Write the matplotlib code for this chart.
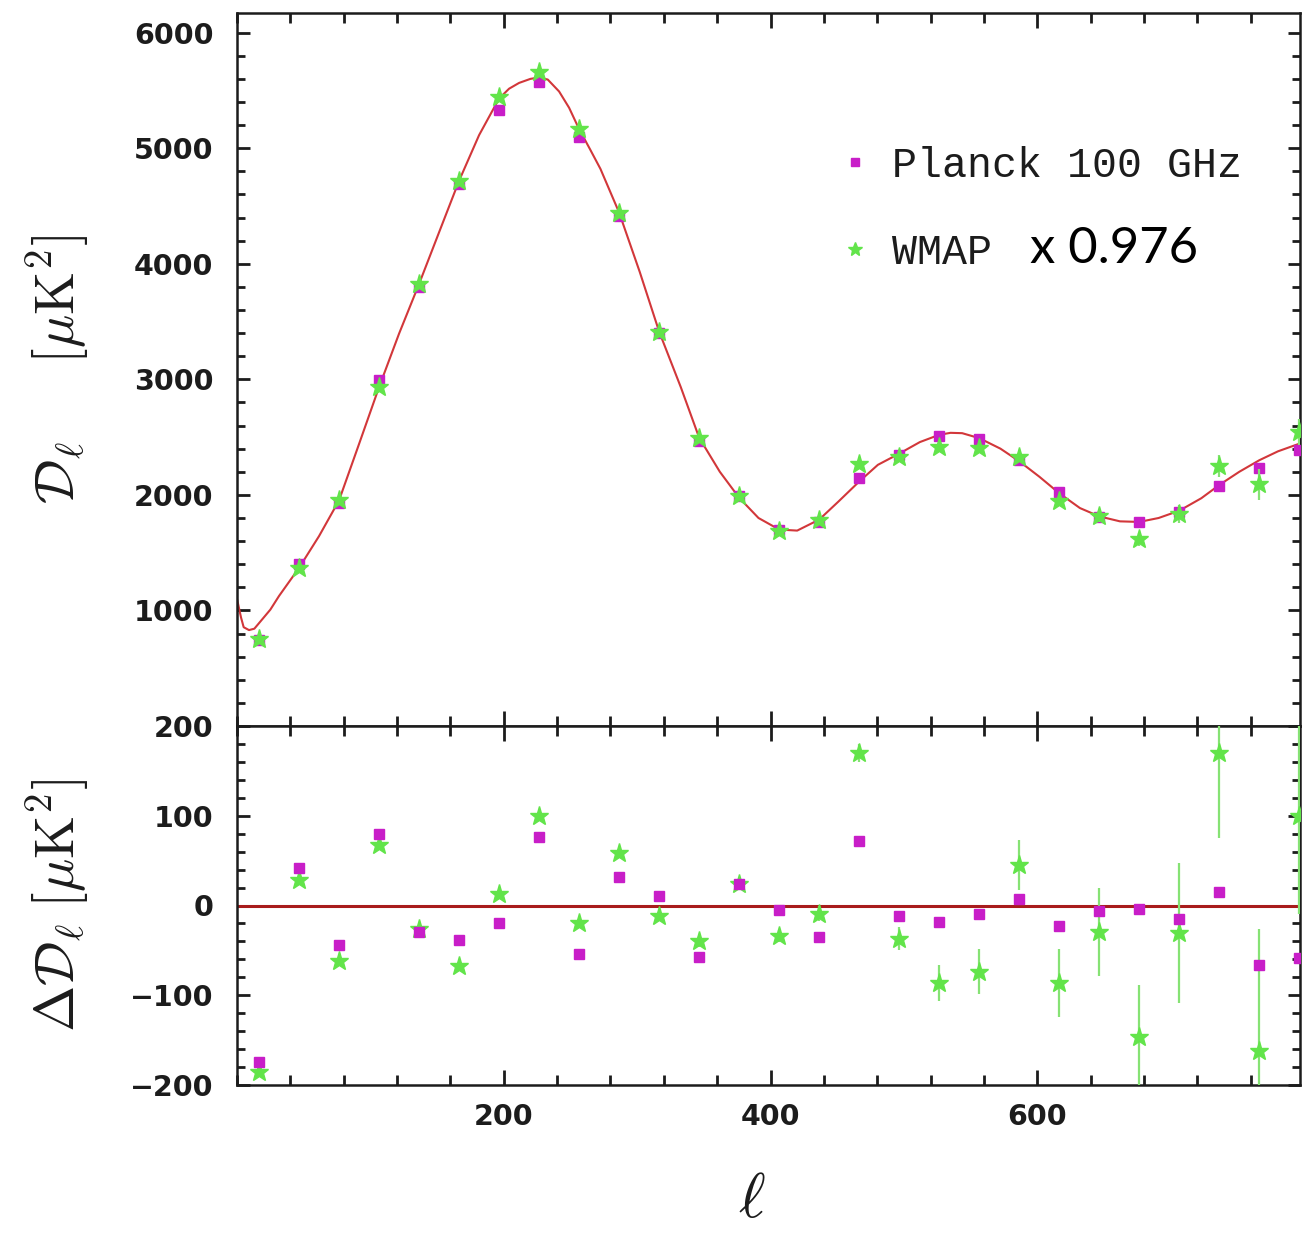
import matplotlib
matplotlib.use("Agg")
import matplotlib.pyplot as plt
from matplotlib.ticker import MultipleLocator, FixedLocator
from matplotlib.lines import Line2D

# ---------------- data ----------------
ell_bins = [16.5, 46.5, 76.5, 106.5, 136.5, 166.5, 196.5, 226.5, 256.5, 286.5,
            316.5, 346.5, 376.5, 406.5, 436.5, 466.5, 496.5, 526.5, 556.5, 586.5,
            616.5, 646.5, 676.5, 706.5, 736.5, 766.5, 796.5]

planck_dl = [740, 1400, 1930, 2990, 3800, 4690, 5330, 5575, 5095, 4410,
             3400, 2470, 1990, 1695, 1765, 2143, 2345, 2508, 2486, 2300,
             2029, 1810, 1766, 1850, 2080, 2234, 2386]

wmap_dl = [750, 1368, 1952, 2932, 3825, 4718, 5440, 5660, 5165, 4443,
           3413, 2495, 1986, 1686, 1786, 2263, 2329, 2414, 2406, 2329,
           1943, 1814, 1614, 1834, 2251, 2091, 2543]

planck_res = [-174, 42, -44, 80, -29, -38, -20, 76, -54, 32,
              11, -57, 24, -5, -35, 72, -12, -18, -10, 7,
              -23, -6, -4, -15, 15, -66, -58]

wmap_res = [-186, 28, -62, 67, -26, -67, 13, 100, -20, 58,
            -12, -40, 24, -34, -9, 170, -37, -86, -74, 45,
            -86, -30, -147, -31, 170, -162, 100]

wmap_err = [3, 3, 3, 3, 3, 4, 4, 4, 5, 5,
            5, 6, 6, 7, 8, 10, 13, 20, 25, 28,
            38, 49, 58, 78, 95, 136, 110]

model_ell = [0, 3, 5, 9, 13, 16.5, 25, 31.5, 46.5, 61.5, 76.5, 91.5, 106.5,
             121.5, 136.5, 151.5, 166.5, 181.5, 196.5, 204, 211.5, 220, 226.5,
             233, 241.5, 249, 256.5, 264.5, 272.5, 286.5, 302, 316.5, 332.75,
             346.5, 362, 376.5, 391, 406.5, 420, 436.5, 451, 466, 480.5, 496.5,
             512, 526.5, 535, 543.7, 556.5, 572.4, 586.5, 601.6, 616.5, 632,
             646.5, 662, 676.5, 691, 706.5, 723, 736.5, 751.5, 766.5, 780.5,
             796.5, 800]
model_dl = [1100, 940, 855, 830, 842, 890, 1007, 1125, 1368, 1643, 1952, 2440,
            2932, 3395, 3825, 4272, 4718, 5113, 5430, 5515, 5565, 5600, 5612,
            5594, 5491, 5350, 5165, 4995, 4821, 4443, 3928, 3413, 2932, 2495,
            2200, 1975, 1800, 1700, 1691, 1786, 1943, 2110, 2260, 2357, 2457,
            2520, 2537, 2534, 2491, 2400, 2291, 2157, 2014, 1886, 1814, 1771,
            1766, 1800, 1863, 1971, 2086, 2200, 2300, 2377, 2443, 2455]

top_yticks = [1000, 2000, 3000, 4000, 5000, 6000]
res_yticks = [-200, -100, 0, 100, 200]
x_ticks = [200, 400, 600]

# ---------------- style ----------------
plt.rcParams['mathtext.fontset'] = 'cm'
plt.rcParams['font.family'] = ['DejaVu Sans']

MAG = '#C81EC8'
GRN = '#62E44A'
GRN_ERR = '#86E274'
RED = '#D2373A'
ZERO = '#A81C1C'
INK = '#1c1c1c'

W, H = 1304, 1233
fig = plt.figure(figsize=(W / 100, H / 100), dpi=100)


def fx(px):
    return px / W


def fy(py):
    return 1 - py / H


L, R = 237, 1300
ax1 = fig.add_axes([fx(L), fy(726), (R - L) / W, (726 - 13) / H])
ax2 = fig.add_axes([fx(L), fy(1085), (R - L) / W, (1085 - 726) / H])

# top panel
ax1.plot(model_ell, model_dl, color=RED, lw=1.5, zorder=2)
ax1.plot(ell_bins, planck_dl, 's', ms=7, color=MAG, mec=MAG, zorder=3)
ax1.errorbar(ell_bins, wmap_dl, yerr=wmap_err, fmt='*', ms=14, color=GRN,
             mec=GRN, ecolor=GRN_ERR, elinewidth=1.6, capsize=0, zorder=4)

# residual panel
ax2.axhline(0, color=ZERO, lw=2.2, zorder=2)
ax2.errorbar(ell_bins, wmap_res, yerr=wmap_err, fmt='*', ms=14, color=GRN,
             mec=GRN, ecolor=GRN_ERR, elinewidth=1.6, capsize=0, zorder=3)
ax2.plot(ell_bins, planck_res, 's', ms=7, color=MAG, mec=MAG, zorder=4)

ax1.set_ylim(0, 6170)
ax2.set_ylim(-200, 200)
ax1.yaxis.set_major_locator(FixedLocator(top_yticks))
ax1.yaxis.set_minor_locator(MultipleLocator(200))
ax2.yaxis.set_major_locator(FixedLocator(res_yticks))
ax2.yaxis.set_minor_locator(MultipleLocator(20))

for ax in (ax1, ax2):
    ax.set_xlim(0, 797)
    ax.xaxis.set_major_locator(FixedLocator(x_ticks))
    ax.xaxis.set_minor_locator(MultipleLocator(40))
    ax.tick_params(which='both', direction='in', top=True, right=True,
                   color=INK, width=2, labelcolor=INK, labelsize=20.5)
    ax.tick_params(axis='x', which='major', length=11, pad=13)
    ax.tick_params(axis='x', which='minor', length=7)
    ax.tick_params(axis='y', which='major', length=9, pad=17)
    ax.tick_params(axis='y', which='minor', length=5.5)
    for sp in ax.spines.values():
        sp.set_linewidth(1.8)
        sp.set_color(INK)
    for lab in ax.get_xticklabels() + ax.get_yticklabels():
        lab.set_fontweight('bold')

ax1.tick_params(labelbottom=False)

ax1.set_ylabel(r'$\mathcal{D}_\ell\quad\;\;[\mu{\rm K}^2]$', fontsize=40, color=INK)
ax1.yaxis.set_label_coords((92 - L) / (R - L), 0.5)
ax2.set_ylabel(r'$\Delta\mathcal{D}_\ell\;[\mu{\rm K}^2]$', fontsize=40, color=INK)
ax2.yaxis.set_label_coords((92 - L) / (R - L), 0.5)
ax2.set_xlabel(r'$\ell$', fontsize=46, color=INK)
ax2.xaxis.set_label_coords((752 - L) / (R - L), (1085 - 1168) / (1085 - 726))

# legend
handles = [Line2D([], [], marker='s', ls='none', color=MAG, ms=6),
           Line2D([], [], marker='*', ls='none', color=GRN, ms=10)]
ax1.legend(handles, ['Planck 100 GHz', 'WMAP'], loc='upper left',
           bbox_to_anchor=(fx(842), fy(146)), bbox_transform=fig.transFigure,
           frameon=False, prop={'family': 'Liberation Mono', 'weight': 'normal', 'size': 30},
           handlelength=0.6, handletextpad=0.6, labelspacing=1.12,
           borderpad=0, borderaxespad=0, labelcolor=INK)
fig.text(fx(1030), fy(263), 'x 0.976', family='Lato', fontsize=36.5,
         ha='left', va='baseline', color='black')

fig.savefig('out.png', dpi=100)
